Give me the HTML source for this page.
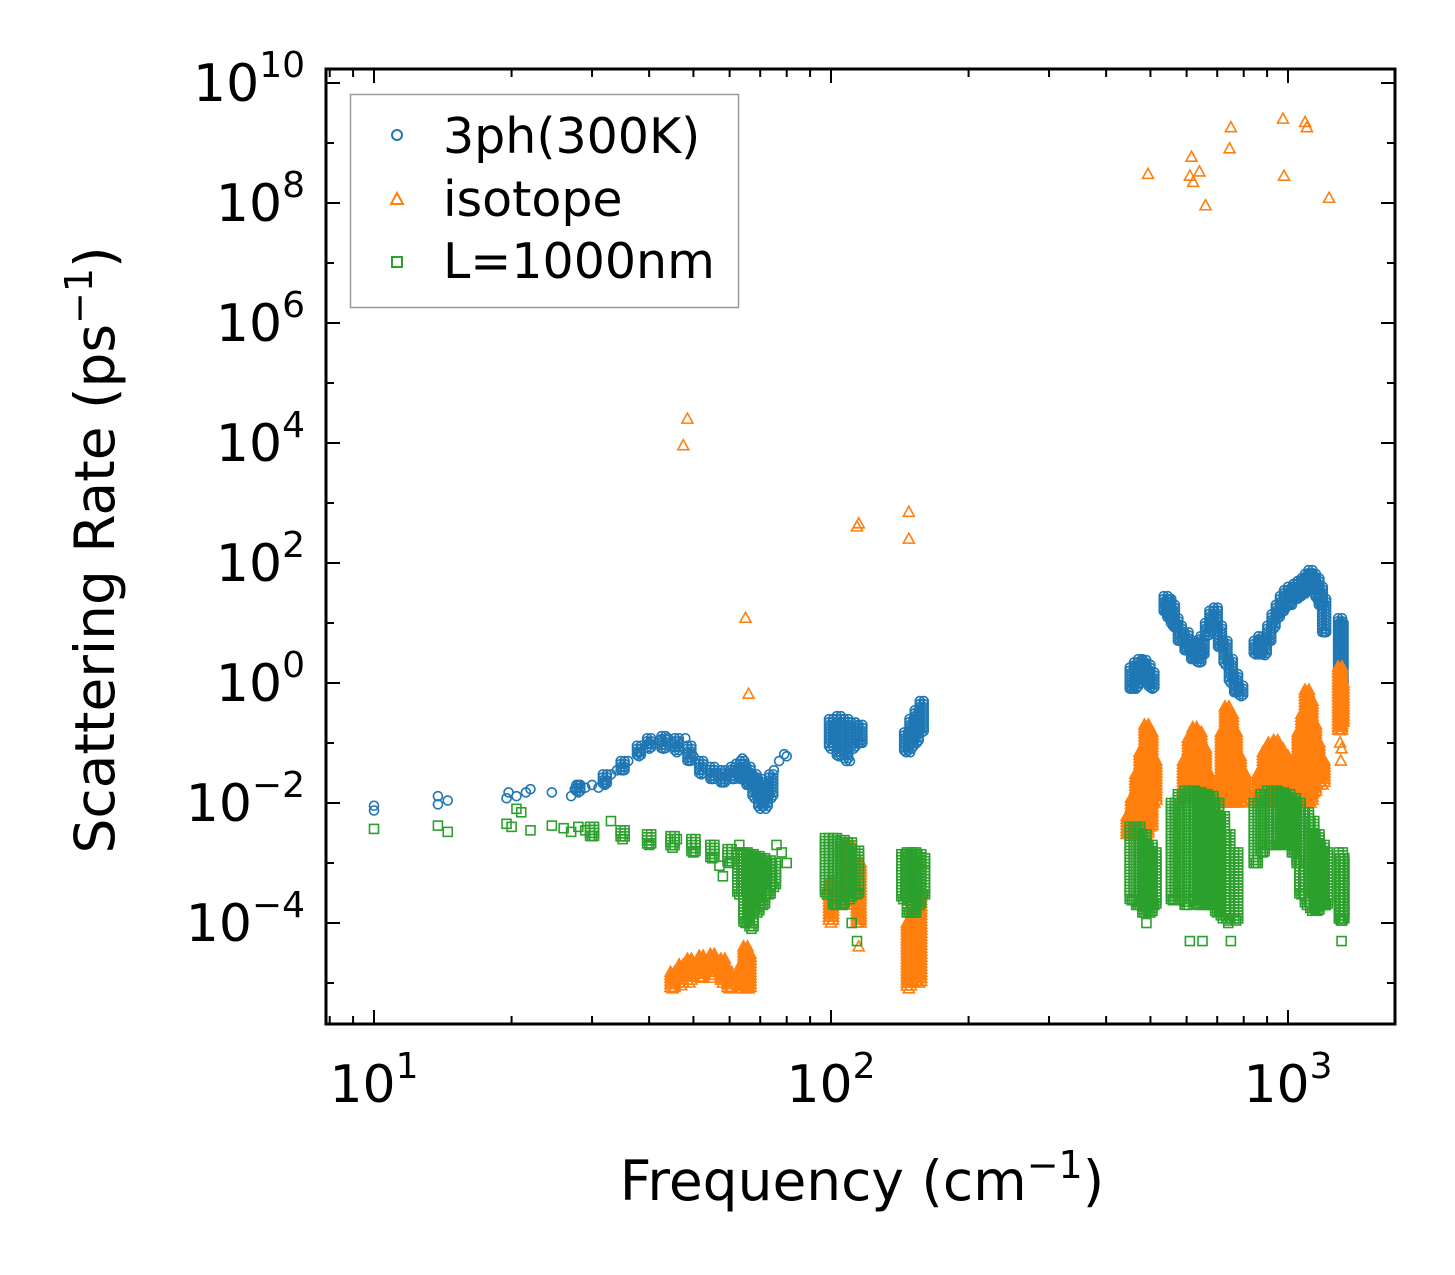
<!DOCTYPE html>
<html><head><meta charset="utf-8"><style>
html,body{margin:0;padding:0;background:#fff;}
svg{display:block;font-family:"DejaVu Sans","Liberation Sans",sans-serif;}
</style></head><body>
<svg id="chart" width="1455" height="1275" viewBox="0 0 1455 1275" xmlns="http://www.w3.org/2000/svg">
<rect width="1455" height="1275" fill="#fff"/>
<g id="marks"></g>
<g id="axes"></g>
<text x="862" y="1200" font-size="55" text-anchor="middle">Frequency (cm<tspan dy="-22" font-size="38">−1</tspan><tspan dy="22">)</tspan></text>
<text transform="translate(114,550) rotate(-90)" font-size="55" text-anchor="middle">Scattering Rate (ps<tspan dy="-22" font-size="38">−1</tspan><tspan dy="22">)</tspan></text>
<g>
<rect x="350.5" y="94.5" width="388" height="213" fill="#fff" stroke="#999" stroke-width="1.5"/>
<circle cx="397" cy="135" r="5" fill="none" stroke="#1f77b4" stroke-width="2"/>
<text x="443" y="153" font-size="49">3ph(300K)</text>
<polygon points="397,193 403,204 391,204" fill="none" stroke="#ff7f0e" stroke-width="2"/>
<text x="443" y="216" font-size="49">isotope</text>
<rect x="392" y="257" width="10" height="10" fill="none" stroke="#2ca02c" stroke-width="2"/>
<text x="443" y="278" font-size="49">L=1000nm</text>
</g>
</svg>
<script>
const xTickValues=[10,100,1000];
const xTickLabels=["1","2","3"];
const yTickValues=[1e-4,1e-2,1,1e2,1e4,1e6,1e8,1e10];
const yTickLabels=["−4","−2","0","2","4","6","8","10"];
// individual points [frequency, rate]
const series3ph=[[10,0.009],[10,0.0075],[13.8,0.013],[13.8,0.0095],[14.5,0.011],[19.5,0.012],[19.7,0.015],[20.5,0.013],[21.5,0.015],[22,0.017],[24.5,0.015],[27,0.013],[27.5,0.017],[28,0.02],[29,0.018],[30,0.02],[31,0.018],[32,0.022],[33,0.03],[34,0.035],[36,0.05],[38,0.07],[40,0.1],[42,0.11],[44,0.12],[46,0.09],[48,0.12],[50,0.06],[62,0.045],[64,0.055],[73,0.02],[75,0.035],[77,0.05],[79,0.065],[80,0.06],[110,0.05],[149,0.07],[540,20],[550,25],[1210,7],[1300,10],[1315,0.6]];
const seriesIso=[[494,3e8],[610,2.8e8],[615,5.8e8],[620,2.2e8],[640,3.3e8],[660,9e7],[750,1.8e9],[745,8e8],[975,2.5e9],[980,2.8e8],[1090,2.2e9],[1100,1.8e9],[1230,1.2e8],
[48.5,2.5e4],[47.5,9e3],[65,12],[66,0.65],[114,400],[115,450],[148,700],[148,250],[115,4e-5],[158,1e-3],[1305,0.05],[1310,0.08],[1300,0.1]];
const seriesBnd=[[10,0.0037],[13.8,0.0042],[14.5,0.0033],[19.5,0.0045],[20,0.004],[20.5,0.008],[21,0.007],[22,0.0035],[24.5,0.0042],[26,0.0038],[27,0.0033],[28,0.004],[29,0.0035],[33,0.005],[46,0.0025],[57,0.0009],[58,0.0006],[63,0.002],[76,0.002],[78,0.0015],[80,0.001],[114,0.00005],[111,0.0001],[490,0.0001],[610,0.00005],[650,0.00005],[750,0.00005],[1310,0.00005],[740,0.0001]];
// dense bands [frequency, rate_low, rate_high]
const band3ph=[[28,0.015,0.02],[32,0.02,0.03],[35,0.035,0.05],[38,0.06,0.09],[40,0.08,0.12],[43,0.08,0.13],[46,0.07,0.12],[49,0.05,0.09],[52,0.03,0.05],[55,0.025,0.04],[58,0.022,0.035],[61,0.025,0.04],[64,0.025,0.05],[66,0.02,0.04],[68,0.012,0.03],[70,0.008,0.025],[72,0.008,0.02],[74,0.012,0.03],
[100,0.08,0.25],[104,0.06,0.28],[108,0.05,0.25],[112,0.08,0.22],[116,0.1,0.2],
[146,0.07,0.15],[150,0.08,0.25],[154,0.1,0.35],[158,0.15,0.5],
[455,0.8,1.8],[465,0.8,2.2],[475,1,2.5],[485,1.1,2.4],[495,0.9,2],[505,0.8,1.5],
[540,15,28],[550,12,25],[560,9,20],[570,8,12],[580,5,9],[600,3.5,7],[620,2.5,5],[640,2.2,4],
[650,3,6],[665,6,10],[680,10,16],[695,8,18],[710,4,9],[730,2,5],[750,1,2.5],[770,0.7,1.4],[790,0.6,0.9],
[850,3,5],[870,3,6],[890,2.9,5],[910,5,9],[930,8,14],[950,12,20],[970,15,28],[990,18,35],[1010,20,40],[1040,25,45],[1060,28,50],[1080,30,55],[1100,35,65],[1120,40,76],[1140,35,65],[1160,25,55],[1180,20,40],[1200,7,25],
[1300,0.7,12],[1310,1,10]];
const bandIso=[[45,8e-6,1.5e-5],[47,9e-6,2e-5],[49,1e-5,2.5e-5],[52,1.2e-5,2.8e-5],[55,1.2e-5,3e-5],[58,1e-5,2.5e-5],[60,8e-6,1.5e-5],[64,8e-6,2e-5],[65,8e-6,4e-5],[66,8e-6,3e-5],
[100,1e-4,5e-4],[110,2e-4,2e-3],[115,1e-4,1e-3],
[148,8e-6,1e-4],[152,1e-5,2.4e-4],[156,1e-5,3e-4],
[448,0.003,0.006],[458,0.003,0.012],[468,0.003,0.03],[478,0.003,0.07],[490,0.003,0.2],[500,0.004,0.15],[510,0.01,0.05],
[595,0.01,0.05],[610,0.011,0.12],[625,0.011,0.18],[640,0.011,0.15],[655,0.011,0.08],[668,0.012,0.03],
[720,0.01,0.15],[735,0.01,0.4],[750,0.01,0.3],[765,0.01,0.15],[780,0.01,0.06],[800,0.01,0.03],
[865,0.01,0.03],[890,0.01,0.07],[915,0.01,0.1],[940,0.01,0.11],[965,0.01,0.08],[990,0.015,0.06],[1020,0.02,0.05],[1050,0.02,0.04],
[1060,0.01,0.15],[1080,0.01,0.3],[1100,0.01,0.76],[1120,0.01,0.5],[1140,0.015,0.2],[1160,0.02,0.1],[1190,0.02,0.05],
[1300,0.16,1.85],[1310,0.2,1]];
const bandBnd=[[30,0.0028,0.004],[35,0.0025,0.0035],[40,0.002,0.003],[45,0.0018,0.0028],[50,0.0015,0.0025],[55,0.0012,0.002],[60,0.001,0.0017],[63,3e-4,0.0015],[65,1e-4,1.5e-3],[67,8e-5,1.4e-3],[69,1.5e-4,1.3e-3],[71,2e-4,1.2e-3],[73,3e-4,1.1e-3],[75,4e-4,1e-3],
[98,3e-4,2.6e-3],[102,2e-4,2.6e-3],[106,2e-4,2.4e-3],[110,2.5e-4,2.2e-3],[114,3e-4,1.6e-3],
[144,2.5e-4,1.4e-3],[148,1.5e-4,1.5e-3],[152,1.5e-4,1.5e-3],[156,2e-4,1.4e-3],[159,3e-4,1.2e-3],
[455,2.4e-4,4e-3],[470,2e-4,4e-3],[485,1.5e-4,3e-3],[500,1.5e-4,2e-3],[510,2e-4,1.5e-3],
[560,2.4e-4,0.01],[580,2.4e-4,0.014],[600,2e-4,0.016],[620,2.4e-4,0.016],[640,2e-4,0.015],[660,2e-4,0.014],
[680,2e-4,0.013],[700,1.5e-4,0.01],[720,1.2e-4,0.006],[740,1.1e-4,0.003],[770,1.1e-4,0.0015],
[850,1e-3,0.01],[880,1.5e-3,0.014],[910,2e-3,0.016],[940,2e-3,0.016],[970,2e-3,0.015],[1000,2e-3,0.014],[1030,1.5e-3,0.012],[1055,1e-3,0.01],
[1070,3e-4,7e-3],[1100,2e-4,7e-3],[1130,1.6e-4,5e-3],[1160,1.6e-4,3e-3],[1190,2e-4,2e-3],[1210,2e-4,1.5e-3],
[1305,1.1e-4,1.5e-3],[1315,1.1e-4,1.2e-3]];
const X0=374,XD=457,Y0=683,YD=60;
const L=326,R=1395,T=69,B=1024;
function sx(v){return X0+XD*(Math.log10(v)-1);}
function sy(v){return Y0-YD*Math.log10(v);}
const NS="http://www.w3.org/2000/svg";
const marks=document.getElementById('marks');
const axes=document.getElementById('axes');
function mk(tag,attrs,parent){const e=document.createElementNS(NS,tag);for(const k in attrs)e.setAttribute(k,attrs[k]);parent.appendChild(e);return e;}
function circ(x,y,g){const e=mk('circle',{cx:x,cy:y,r:4.5,fill:'none',stroke:'#1f77b4','stroke-width':1.6},g);

}
function tri(x,y,g){const e=mk('polygon',{points:`${x},${y-6} ${x+5.5},${y+4} ${x-5.5},${y+4}`,fill:'none',stroke:'#ff7f0e','stroke-width':1.6},g);

}
function sq(x,y,g){const e=mk('rect',{x:x-4.5,y:y-4.5,width:9,height:9,fill:'none',stroke:'#2ca02c','stroke-width':1.6},g);

}
function drawSeries(pts,bands,fn,g){
  pts.forEach(p=>fn(sx(p[0]),sy(p[1]),g));
  bands.forEach(b=>{const x=sx(b[0]);const y1=sy(b[2]),y2=sy(b[1]);
    for(let y=y1;y<=y2;y+=3){fn(x-2,y,g);fn(x+2,y,g);} fn(x,y2,g);});
}
const g3=mk('g',{},marks);


const gi=mk('g',{},marks);


const gb=mk('g',{},marks);


drawSeries(series3ph,band3ph,circ,g3);
drawSeries(seriesIso,bandIso,tri,gi);
drawSeries(seriesBnd,bandBnd,sq,gb);
const frame=mk('rect',{x:L,y:T,width:R-L,height:B-T,fill:'none',stroke:'#000','stroke-width':3},axes);


for(let d=0;d<4;d++){for(let m=1;m<10;m++){const v=Math.pow(10,d)*m;const x=sx(v);if(x<L||x>R)continue;const len=m===1?14:8;
mk('line',{x1:x,y1:B,x2:x,y2:B-len,stroke:'#000','stroke-width':2},axes);
mk('line',{x1:x,y1:T,x2:x,y2:T+len,stroke:'#000','stroke-width':2},axes);}}
xTickValues.forEach((v,i)=>{const t=mk('text',{x:sx(v),y:1102,'font-size':52,'text-anchor':'middle'},axes);


t.innerHTML='10<tspan dy="-24" font-size="36">'+xTickLabels[i]+'</tspan>';});
for(let e=-5;e<=10;e++){const y=sy(Math.pow(10,e));if(y<T-1||y>B)continue;const len=e%2===0?14:8;
mk('line',{x1:L,y1:y,x2:L+len,y2:y,stroke:'#000','stroke-width':2},axes);
mk('line',{x1:R,y1:y,x2:R-len,y2:y,stroke:'#000','stroke-width':2},axes);}
yTickValues.forEach((v,i)=>{const t=mk('text',{x:305,y:sy(v)+18,'font-size':52,'text-anchor':'end'},axes);


t.innerHTML='10<tspan dy="-24" font-size="36">'+yTickLabels[i]+'</tspan>';});
</script>
</body></html>
